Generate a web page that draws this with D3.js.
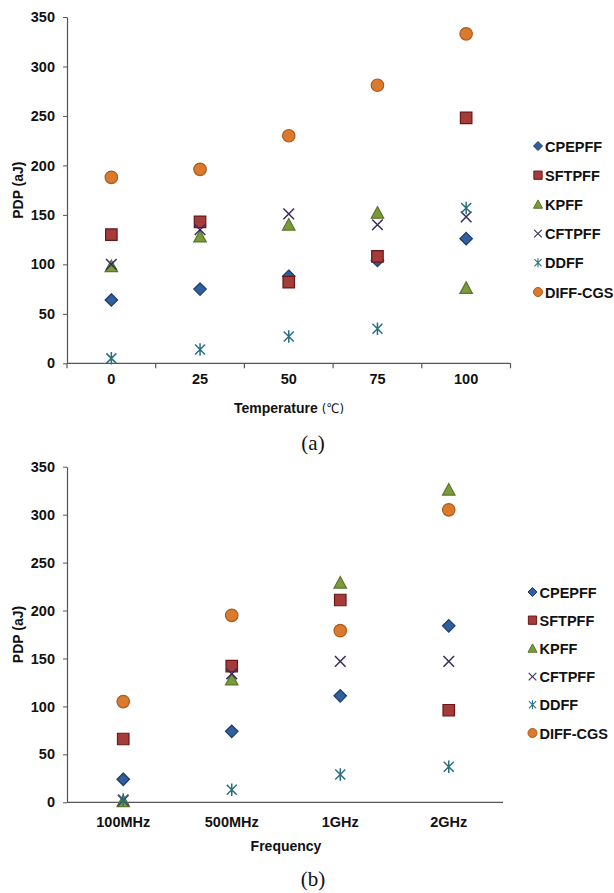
<!DOCTYPE html>
<html><head><meta charset="utf-8">
<script src="https://cdn.jsdelivr.net/npm/d3@7"></script>
<style>
html,body{margin:0;padding:0;background:#fff;}
svg{display:block;font-family:"Liberation Sans",Arial,sans-serif;}
</style></head>
<body>
<svg id="chart" width="614" height="893"></svg>
<script>
// ---------- DATA ----------
const seriesNames = ["CPEPFF","SFTPFF","KPFF","CFTPFF","DDFF","DIFF-CGS"];
const yTicks = [0,50,100,150,200,250,300,350];

const tempCategories = ["0","25","50","75","100"];
const tempCPEPFF  = [64, 75, 88, 104, 126];
const tempSFTPFF  = [130, 143, 82, 108, 248];
const tempKPFF    = [98, 128, 140, 152, 76];
const tempCFTPFF  = [100, 135, 151, 140, 148];
const tempDDFF    = [5, 14, 27, 35, 157];
const tempDIFFCGS = [188, 196, 230, 281, 333];

const freqCategories = ["100MHz","500MHz","1GHz","2GHz"];
const freqCPEPFF  = [24, 74, 111, 184];
const freqSFTPFF  = [66, 142, 211, 96];
const freqKPFF    = [1, 128, 229, 326];
const freqCFTPFF  = [2, 134, 147, 147];
const freqDDFF    = [3, 13, 29, 37];
const freqDIFFCGS = [105, 195, 179, 305];

// ---------- STYLE ----------
const styles = {
  "CPEPFF":  {shape:"diamond",  fill:"#2f5f9c", stroke:"#1c3a6b"},
  "SFTPFF":  {shape:"square",   fill:"#a33c3b", stroke:"#6a1616"},
  "KPFF":    {shape:"triangle", fill:"#7b9a3c", stroke:"#58762a"},
  "CFTPFF":  {shape:"x",        fill:"none",    stroke:"#3a2a5c"},
  "DDFF":    {shape:"asterisk", fill:"none",    stroke:"#2a6f80"},
  "DIFF-CGS":{shape:"circle",   fill:"#d97a2e", stroke:"#b05a17"}
};

function markerPath(shape, s){
  const h = s/2;
  switch(shape){
    case "diamond": return `M0,${-h}L${h},0L0,${h}L${-h},0Z`;
    case "square": { const q=h*0.92; return `M${-q},${-q}H${q}V${q}H${-q}Z`; }
    case "triangle": return `M0,${-h}L${h},${h*0.85}L${-h},${h*0.85}Z`;
    case "circle": return d3.arc()({innerRadius:0,outerRadius:h,startAngle:0,endAngle:2*Math.PI});
    case "x": { const q=h*0.85; return `M${-q},${-q}L${q},${q}M${-q},${q}L${q},${-q}`; }
    case "asterisk": { const q=h*0.8; return `M${-q},${-q}L${q},${q}M${-q},${q}L${q},${-q}M0,${-h}V${h}`; }
  }
}

const svg = d3.select("#chart");

function drawPanel(cfg){
  const g = svg.append("g");
  const x = d3.scaleBand().domain(cfg.categories).range(cfg.xRange).padding(0);
  const y = d3.scaleLinear().domain([0,350]).range(cfg.yRange);

  // y axis
  const ya = g.append("g").attr("transform",`translate(${cfg.axisX},0)`)
    .call(d3.axisLeft(y).tickValues(yTicks).tickSize(4).tickSizeOuter(0).tickPadding(8));
  ya.attr("font-family",null);
  ya.select(".domain").attr("stroke","#555").attr("stroke-width",1.2);
  ya.selectAll(".tick line").attr("stroke","#555");
  ya.selectAll(".tick text").attr("font-size","14.5px").attr("font-weight","bold").attr("fill","#111");

  // x axis
  const xa = g.append("g").attr("transform",`translate(0,${cfg.yRange[0]})`)
    .call(d3.axisBottom(x).tickSize(0).tickPadding(cfg.xPad));
  xa.attr("font-family",null);
  xa.select(".domain").attr("d",`M${cfg.axisX},0H${cfg.xRange[1]}`).attr("stroke","#555").attr("stroke-width",1.2);
  xa.selectAll(".tick text").attr("font-size","14.5px").attr("font-weight","bold").attr("fill","#111");
  if(cfg.boundaryTicks){
    const bounds = cfg.categories.map(c=>x(c)).concat([x(cfg.categories[cfg.categories.length-1])+x.bandwidth()]);
    xa.selectAll("line.bt").data(bounds).enter().append("line").attr("class","bt")
      .attr("x1",d=>d).attr("x2",d=>d).attr("y1",0).attr("y2",5).attr("stroke","#555").attr("stroke-width",1.2);
  }

  // axis titles
  g.append("text").attr("transform",`translate(${cfg.yLabelX},${(cfg.yRange[0]+cfg.yRange[1])/2}) rotate(-90)`)
    .attr("text-anchor","middle").attr("font-size","14px").attr("font-weight","bold").attr("fill","#111").text("PDP (aJ)");
  const xt = g.append("text").attr("x",cfg.xTitleX).attr("y",cfg.xTitleY).attr("text-anchor","middle")
    .attr("font-size","14px").attr("font-weight","bold").attr("fill","#111");
  xt.append("tspan").text(cfg.xTitle);
  if(cfg.xTitleUnit) xt.append("tspan").attr("font-weight","normal")
    .style("font-family","'DejaVu Sans Condensed','DejaVu Sans',sans-serif").attr("font-size","13px").text(cfg.xTitleUnit);

  // data points
  cfg.series.forEach((vals,i)=>{
    const name = seriesNames[i]; const st = styles[name];
    g.append("g").selectAll("path").data(vals).enter().append("path")
      .attr("transform",(d,j)=>`translate(${x(cfg.categories[j])+x.bandwidth()/2},${y(d)})`)
      .attr("d",markerPath(st.shape, 12.5))
      .attr("fill",st.fill).attr("stroke",st.stroke)
      .attr("stroke-width",(st.shape==="x"||st.shape==="asterisk")?1.5:1.2);
  });

  // legend
  const lg = g.append("g");
  seriesNames.forEach((name,i)=>{
    const st = styles[name];
    const yy = cfg.legendY + i*cfg.legendStep;
    lg.append("path").attr("transform",`translate(${cfg.legendX},${yy})`)
      .attr("d",markerPath(st.shape,9)).attr("fill",st.fill).attr("stroke",st.stroke)
      .attr("stroke-width",(st.shape==="x"||st.shape==="asterisk")?1.1:1);
    lg.append("text").attr("x",cfg.legendX+7).attr("y",yy+5.5).attr("font-size","14.5px")
      .attr("font-weight","bold").attr("fill","#111").text(name);
  });

  // caption
  svg.append("text").attr("x",313).attr("y",cfg.captionY).attr("text-anchor","middle")
    .style("font-family","'Liberation Serif','Times New Roman',serif").attr("font-size","21px").attr("fill","#111").text(cfg.caption);
}

drawPanel({
  categories: tempCategories,
  series: [tempCPEPFF,tempSFTPFF,tempKPFF,tempCFTPFF,tempDDFF,tempDIFFCGS],
  xRange:[67,510.5], yRange:[363.3,17], axisX:67, xPad:10, boundaryTicks:true,
  yLabelX:23, xTitle:"Temperature ", xTitleUnit:"(℃)", xTitleX:289, xTitleY:413,
  legendX:538, legendY:146, legendStep:29.2, caption:"(a)", captionY:450
});
drawPanel({
  categories: freqCategories,
  series: [freqCPEPFF,freqSFTPFF,freqKPFF,freqCFTPFF,freqDDFF,freqDIFFCGS],
  xRange:[69,503], yRange:[802.3,466.7], axisX:67, xPad:14, boundaryTicks:false,
  yLabelX:23, xTitle:"Frequency", xTitleUnit:null, xTitleX:286, xTitleY:851,
  legendX:532.5, legendY:592, legendStep:28.2, caption:"(b)", captionY:886
});
</script>
</body></html>
